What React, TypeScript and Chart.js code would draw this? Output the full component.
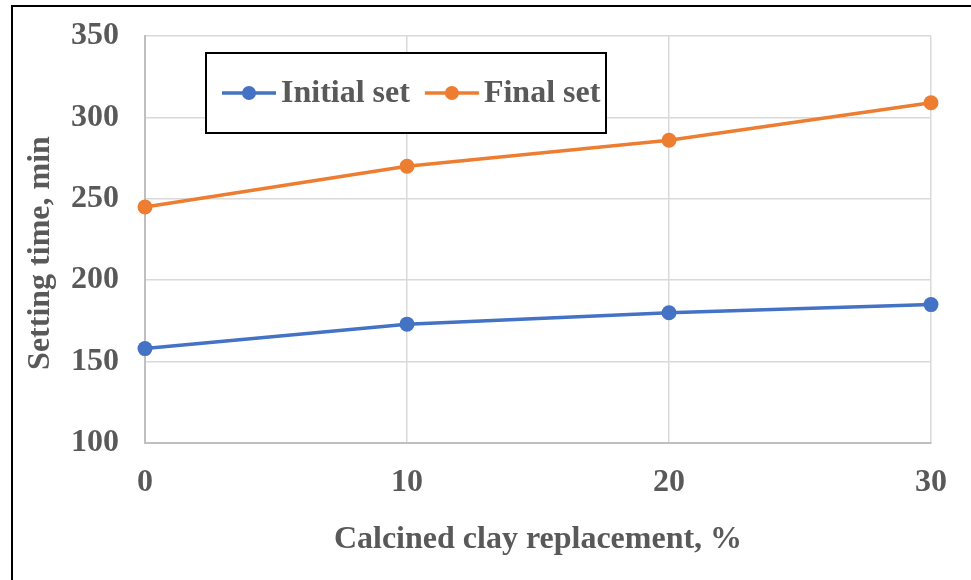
import React, { useEffect, useRef } from "react";
import { Chart, registerables } from "chart.js";

Chart.register(...registerables);

const replacement = [0, 10, 20, 30];
const initialSet = [158, 173, 180, 185];
const finalSet = [245, 270, 286, 309];
const seriesLabels = ["Initial set", "Final set"];
const yTicks = [100, 150, 200, 250, 300, 350];
const xTitle = "Calcined clay replacement, %";
const yTitle = "Setting time, min";

const FONT = "'Times New Roman', 'Liberation Serif', serif";
const TEXT = "#595959";
const BLUE = "#4472C4";
const ORANGE = "#ED7D31";

const framePlugin = {
  id: "frame",
  afterDraw(chart: any) {
    const ctx = chart.ctx;
    ctx.save();
    ctx.strokeStyle = "#000";
    ctx.lineWidth = 2;
    ctx.beginPath();
    ctx.moveTo(12, 590);
    ctx.lineTo(12, 6);
    ctx.lineTo(990, 6);
    ctx.stroke();
    // y axis title
    ctx.translate(41, 253);
    ctx.rotate(-Math.PI / 2);
    ctx.font = `bold 32px ${FONT}`;
    ctx.fillStyle = TEXT;
    ctx.textAlign = "center";
    ctx.textBaseline = "middle";
    ctx.fillText(yTitle, 0, 0);
    ctx.restore();
  },
};

const legendPlugin = {
  id: "boxLegend",
  afterDraw(chart: any) {
    const ctx = chart.ctx;
    const bx = 206, by = 53, bw = 400, bh = 80;
    ctx.save();
    ctx.fillStyle = "#fff";
    ctx.fillRect(bx, by, bw, bh);
    ctx.strokeStyle = "#000";
    ctx.lineWidth = 2;
    ctx.strokeRect(bx, by, bw, bh);
    ctx.font = `bold 32px ${FONT}`;
    ctx.textBaseline = "middle";
    ctx.textAlign = "left";
    const cy = by + bh / 2;
    let x = bx + 16;
    chart.data.datasets.forEach((ds: any) => {
      ctx.strokeStyle = ds.borderColor;
      ctx.lineWidth = 3.5;
      ctx.beginPath();
      ctx.moveTo(x, cy);
      ctx.lineTo(x + 54, cy);
      ctx.stroke();
      ctx.fillStyle = ds.borderColor;
      ctx.beginPath();
      ctx.arc(x + 27, cy, 7, 0, Math.PI * 2);
      ctx.fill();
      ctx.fillStyle = TEXT;
      ctx.fillText(ds.label, x + 59, cy + 1);
      x += 59 + ctx.measureText(ds.label).width + 15;
    });
    ctx.restore();
  },
};

export default function App() {
  const ref = useRef<HTMLCanvasElement>(null);
  useEffect(() => {
    if (!ref.current) return;
    const mk = (label: string, ys: number[], color: string) => ({
      label,
      data: replacement.map((x, i) => ({ x, y: ys[i] })),
      borderColor: color,
      backgroundColor: color,
      borderWidth: 3.5,
      pointRadius: 7.5,
      pointHoverRadius: 7.5,
      pointBorderWidth: 0,
      clip: false as const,
    });
    const chart = new Chart(ref.current, {
      type: "line",
      data: {
        datasets: [
          mk(seriesLabels[0], initialSet, BLUE),
          mk(seriesLabels[1], finalSet, ORANGE),
        ],
      },
      options: {
        animation: false,
        responsive: false,
        maintainAspectRatio: false,
        layout: { padding: { left: 0, top: 36, right: 40, bottom: 0 } },
        plugins: { legend: { display: false }, tooltip: { enabled: false } },
        scales: {
          x: {
            type: "linear",
            min: 0,
            max: 30,
            afterBuildTicks: (s: any) => {
              s.ticks = replacement.map((v) => ({ value: v }));
            },
            afterFit: (s: any) => {
              s.height = 137;
              s.paddingTop = 0;
              s.paddingBottom = 0;
            },
            grid: { color: "#d9d9d9", lineWidth: 1.5, drawTicks: false },
            border: { color: "#bfbfbf", width: 2 },
            ticks: {
              padding: 21,
              color: TEXT,
              font: { family: FONT, size: 32, weight: "bold" },
              maxRotation: 0,
            },
            title: {
              display: true,
              text: xTitle,
              color: TEXT,
              font: { family: FONT, size: 32, weight: "bold" },
              padding: { top: 0, bottom: 21 },
            },
          },
          y: {
            min: 100,
            max: 350,
            afterBuildTicks: (s: any) => {
              s.ticks = yTicks.map((v) => ({ value: v }));
            },
            afterFit: (s: any) => {
              s.width = 145;
              s.paddingTop = 0;
              s.paddingBottom = 0;
            },
            grid: { color: "#d9d9d9", lineWidth: 1.5, drawTicks: false },
            border: { color: "#bfbfbf", width: 2 },
            ticks: {
              padding: 26,
              color: TEXT,
              font: { family: FONT, size: 32, weight: "bold" },
            },
          },
        },
      },
      plugins: [legendPlugin, framePlugin],
    });
    return () => chart.destroy();
  }, []);
  return (
    <div style={{ position: "fixed", left: 0, top: 0, width: 971, height: 580, background: "#fff" }}>
      <canvas ref={ref} width={971} height={580} style={{ display: "block", width: 971, height: 580 }} />
    </div>
  );
}
